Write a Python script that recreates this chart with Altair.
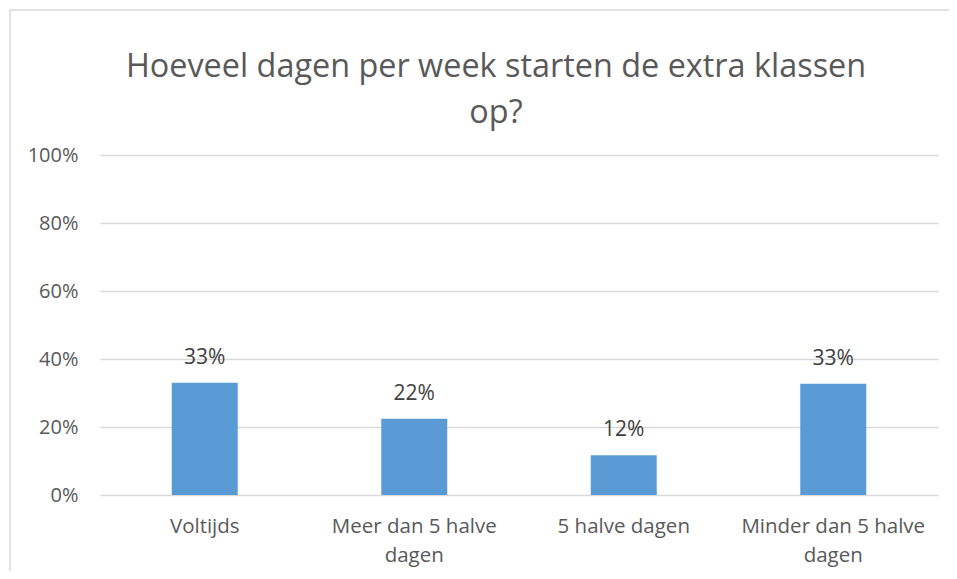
import altair as alt
import pandas as pd

categories = ["Voltijds", "Meer dan 5 halve dagen", "5 halve dagen", "Minder dan 5 halve dagen"]
values = [0.33, 0.224, 0.117, 0.327]
label_lines = {
    "Meer dan 5 halve dagen": ["Meer dan 5 halve", "dagen"],
    "Minder dan 5 halve dagen": ["Minder dan 5 halve", "dagen"],
}
title_lines = ["Hoeveel dagen per week starten de extra klassen", "op?"]

df = pd.DataFrame({"cat": categories, "val": values})

expr = "datum.label"
for k, v in label_lines.items():
    expr = f"datum.label == '{k}' ? ['{v[0]}', '{v[1]}'] : ({expr})"

FONT = "Open Sans"
TXT = "#595959"

x = alt.X("cat:N", sort=categories, title=None,
          scale=alt.Scale(paddingInner=0.685, paddingOuter=0.3425),
          axis=alt.Axis(labelAngle=0, labelExpr=expr, labelFontSize=20.5, labelColor=TXT,
                        labelFont=FONT, ticks=False, domain=False, labelPadding=21,
                        labelLineHeight=29, labelLimit=0))
y = alt.Y("val:Q", title=None,
          scale=alt.Scale(domain=[0, 1]),
          axis=alt.Axis(format=".0%", values=[0, 0.2, 0.4, 0.6, 0.8, 1.0], labelFontSize=20,
                        labelColor=TXT, labelFont=FONT, ticks=False, domain=False,
                        labelPadding=22, gridColor="#D9D9D9", gridWidth=1.3))

bars = alt.Chart(df).mark_bar(color="#5B9BD5").encode(x=x, y=y)
labels = alt.Chart(df).mark_text(baseline="alphabetic", dy=-19, fontSize=21, font=FONT,
                                 color="#404040").encode(
    x=alt.X("cat:N", sort=categories), y="val:Q", text=alt.Text("val:Q", format=".0%"))
border = alt.Chart(pd.DataFrame({"a": [0]})).mark_rect(
    fill="white", fillOpacity=0, stroke="#D9D9D9", strokeWidth=1.5, clip=False).encode(
    x=alt.value(-90), x2=alt.value(960), y=alt.value(-145), y2=alt.value(520))
title = alt.Chart(pd.DataFrame({"t": [title_lines]})).mark_text(
    font=FONT, fontSize=32.4, color=TXT, align="center", baseline="alphabetic",
    lineHeight=46).encode(x=alt.value(396), y=alt.value(-78), text="t")

chart = alt.layer(border, bars, labels, title).properties(
    width=838, height=340,
    padding={"left": 92, "top": 147, "right": 11, "bottom": 76},
    autosize=alt.AutoSizeParams(type="none"),
).configure_view(stroke=None)

chart.save("out.html", embed_options={"renderer": "svg", "actions": False})
